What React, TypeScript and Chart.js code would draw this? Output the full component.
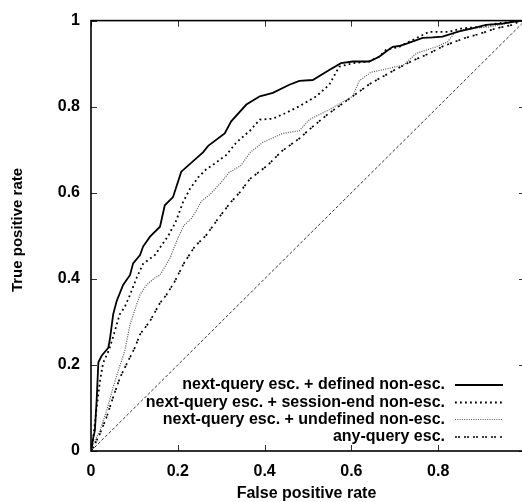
import React, { useEffect, useRef } from "react";
import { Chart, registerables } from "chart.js";

Chart.register(...registerables);

const seriesLabels = [
  "next-query esc. + defined non-esc.",
  "next-query esc. + session-end non-esc.",
  "next-query esc. + undefined non-esc.",
  "any-query esc.",
];

const xTicks = [0, 0.2, 0.4, 0.6, 0.8];
const yTicks = [0, 0.2, 0.4, 0.6, 0.8, 1];
const xTitle = "False positive rate";
const yTitle = "True positive rate";

const definedFpr = [0, 0.005, 0.009, 0.013, 0.017, 0.025, 0.04, 0.044, 0.051, 0.059, 0.074, 0.09, 0.097, 0.113, 0.12, 0.136, 0.159, 0.17, 0.189, 0.208, 0.258, 0.27, 0.308, 0.323, 0.358, 0.389, 0.419, 0.457, 0.48, 0.511, 0.549, 0.576, 0.603, 0.641, 0.664, 0.68, 0.695, 0.71, 0.729, 0.764, 0.787, 0.81, 0.848, 0.879, 0.91, 0.948, 0.99];
const definedTpr = [0, 0.03, 0.048, 0.118, 0.206, 0.222, 0.24, 0.263, 0.317, 0.348, 0.386, 0.409, 0.436, 0.455, 0.475, 0.498, 0.521, 0.571, 0.59, 0.649, 0.694, 0.709, 0.738, 0.766, 0.805, 0.824, 0.832, 0.851, 0.86, 0.862, 0.885, 0.901, 0.905, 0.905, 0.916, 0.928, 0.939, 0.941, 0.947, 0.96, 0.961, 0.963, 0.975, 0.982, 0.99, 0.993, 1];

const sessionFpr = [0, 0.005, 0.013, 0.021, 0.028, 0.042, 0.055, 0.066, 0.078, 0.09, 0.105, 0.12, 0.147, 0.178, 0.195, 0.212, 0.228, 0.247, 0.266, 0.281, 0.312, 0.335, 0.366, 0.389, 0.419, 0.45, 0.48, 0.519, 0.549, 0.572, 0.603, 0.641, 0.664, 0.68, 0.71, 0.733, 0.779, 0.825, 0.856, 0.894, 0.933, 0.99];
const sessionTpr = [0, 0.03, 0.1, 0.165, 0.205, 0.236, 0.279, 0.317, 0.335, 0.363, 0.402, 0.435, 0.455, 0.5, 0.532, 0.578, 0.609, 0.636, 0.655, 0.665, 0.688, 0.717, 0.744, 0.77, 0.772, 0.786, 0.801, 0.824, 0.851, 0.893, 0.901, 0.905, 0.916, 0.932, 0.939, 0.951, 0.974, 0.974, 0.982, 0.985, 0.993, 1];

const undefFpr = [0, 0.006, 0.021, 0.036, 0.051, 0.063, 0.078, 0.09, 0.105, 0.113, 0.128, 0.147, 0.159, 0.182, 0.2, 0.214, 0.231, 0.243, 0.254, 0.275, 0.3, 0.318, 0.345, 0.367, 0.396, 0.442, 0.48, 0.503, 0.549, 0.603, 0.618, 0.645, 0.687, 0.72, 0.75, 0.795, 0.822, 0.838, 0.87, 0.917, 0.956, 0.99];
const undefTpr = [0, 0.018, 0.048, 0.094, 0.148, 0.187, 0.233, 0.294, 0.34, 0.363, 0.386, 0.402, 0.409, 0.448, 0.494, 0.524, 0.54, 0.559, 0.58, 0.597, 0.624, 0.647, 0.663, 0.694, 0.717, 0.738, 0.744, 0.77, 0.793, 0.824, 0.86, 0.88, 0.889, 0.897, 0.924, 0.939, 0.951, 0.972, 0.982, 0.985, 0.993, 1];

const anyFpr = [0, 0.006, 0.021, 0.036, 0.051, 0.067, 0.082, 0.101, 0.113, 0.136, 0.159, 0.174, 0.193, 0.214, 0.239, 0.266, 0.293, 0.322, 0.343, 0.366, 0.406, 0.44, 0.48, 0.503, 0.545, 0.611, 0.641, 0.69, 0.737, 0.78, 0.81, 0.86, 0.898, 0.933, 0.971, 0.99];
const anyTpr = [0, 0.01, 0.041, 0.079, 0.125, 0.171, 0.202, 0.24, 0.271, 0.302, 0.344, 0.363, 0.394, 0.436, 0.475, 0.502, 0.54, 0.578, 0.601, 0.632, 0.663, 0.697, 0.726, 0.747, 0.782, 0.83, 0.852, 0.88, 0.905, 0.924, 0.94, 0.959, 0.97, 0.982, 0.99, 1];

const diagX = [0, 1];
const diagY = [0, 1];

const seriesX = [definedFpr, sessionFpr, undefFpr, anyFpr];
const seriesY = [definedTpr, sessionTpr, undefTpr, anyTpr];

const lineStyles = [
  { color: "#000000", width: 1.8, dash: [] as number[] },
  { color: "#000000", width: 1.8, dash: [1.8, 3.2] },
  { color: "#555555", width: 1.2, dash: [1, 1.3] },
  { color: "#000000", width: 1.7, dash: [2, 1, 2, 4] },
];

const FAMILY = "'Liberation Sans', Arial, sans-serif";

const zip = (xs: number[], ys: number[]) => xs.map((x, i) => ({ x, y: ys[i] }));

const framePlugin = {
  id: "gnuFrame",
  afterDraw(chart: any) {
    const { ctx, chartArea: a, scales } = chart;
    ctx.save();
    // inward ticks on all four sides
    ctx.strokeStyle = "#333333";
    ctx.lineWidth = 1;
    const tl = 6;
    ctx.beginPath();
    for (const v of xTicks) {
      const px = Math.round(scales.x.getPixelForValue(v)) + 0.5;
      ctx.moveTo(px, a.bottom);
      ctx.lineTo(px, a.bottom - tl);
      ctx.moveTo(px, a.top);
      ctx.lineTo(px, a.top + tl);
    }
    for (const v of yTicks) {
      const py = Math.round(scales.y.getPixelForValue(v)) + 0.5;
      ctx.moveTo(a.left, py);
      ctx.lineTo(a.left + tl, py);
      ctx.moveTo(a.right, py);
      ctx.lineTo(a.right - tl, py);
    }
    ctx.stroke();
    // frame
    ctx.strokeStyle = "#000000";
    ctx.lineWidth = 1.6;
    ctx.setLineDash([]);
    ctx.strokeRect(a.left, a.top, a.right - a.left, a.bottom - a.top);

    // axis titles
    ctx.fillStyle = "#000000";
    ctx.font = `bold 16px ${FAMILY}`;
    ctx.textAlign = "center";
    ctx.textBaseline = "middle";
    ctx.fillText(xTitle, (91 + 522) / 2, 494);
    ctx.save();
    ctx.font = `bold 15px ${FAMILY}`;
    ctx.translate(18, 230);
    ctx.rotate(-Math.PI / 2);
    ctx.fillText(yTitle, 0, 0);
    ctx.restore();

    // legend (gnuplot style: right-aligned text, sample on the right)
    const textRight = 445;
    const sx0 = 455;
    const sx1 = 503;
    const rowY = [385, 402.5, 419.5, 437];
    seriesLabels.forEach((label, i) => {
      const y = rowY[i];
      ctx.fillStyle = "#000000";
      ctx.font = `bold 16px ${FAMILY}`;
      ctx.textAlign = "right";
      ctx.textBaseline = "middle";
      ctx.fillText(label, textRight, y);
      const st = lineStyles[i];
      ctx.strokeStyle = st.color;
      ctx.lineWidth = st.width;
      ctx.setLineDash(st.dash);
      ctx.beginPath();
      ctx.moveTo(sx0, y);
      ctx.lineTo(sx1, y);
      ctx.stroke();
    });
    ctx.restore();
  },
};

export default function App() {
  const ref = useRef<HTMLCanvasElement | null>(null);
  useEffect(() => {
    if (!ref.current) return;
    const datasets: any[] = seriesLabels.map((label, i) => ({
      label,
      data: zip(seriesX[i], seriesY[i]),
      showLine: true,
      borderColor: lineStyles[i].color,
      borderWidth: lineStyles[i].width,
      borderDash: lineStyles[i].dash,
      pointRadius: 0,
      tension: 0,
      fill: false,
    }));
    datasets.push({
      label: "random",
      data: zip(diagX, diagY),
      showLine: true,
      borderColor: "#333333",
      borderWidth: 1,
      borderDash: [3, 2],
      pointRadius: 0,
      fill: false,
    });
    const chart = new Chart(ref.current, {
      type: "scatter",
      data: { datasets },
      plugins: [framePlugin],
      options: {
        animation: false,
        responsive: false,
        events: [],
        layout: { padding: { top: 17, right: 0, left: 0, bottom: 0 } },
        plugins: { legend: { display: false }, tooltip: { enabled: false } },
        scales: {
          x: {
            type: "linear",
            min: 0,
            max: 1,
            afterBuildTicks: (s: any) => {
              s.ticks = xTicks.map((v) => ({ value: v }));
            },
            afterFit: (s: any) => {
              s.height = 51;
            },
            grid: { display: false, drawTicks: false },
            border: { display: false },
            ticks: {
              padding: 11,
              color: "#000",
              font: { family: FAMILY, size: 16, weight: "bold" },
              maxRotation: 0,
              callback: (v: any) => String(v),
            },
          },
          y: {
            type: "linear",
            min: 0,
            max: 1,
            afterBuildTicks: (s: any) => {
              s.ticks = yTicks.map((v) => ({ value: v }));
            },
            afterFit: (s: any) => {
              s.width = 91;
            },
            grid: { display: false, drawTicks: false },
            border: { display: false },
            ticks: {
              padding: 11,
              color: "#000",
              font: { family: FAMILY, size: 16, weight: "bold" },
              callback: (v: any) => String(v),
            },
          },
        },
      },
    });
    return () => chart.destroy();
  }, []);
  return (
    <div style={{ position: "fixed", left: 0, top: 0, width: 522, height: 502, overflow: "hidden", background: "#fff" }}>
      <canvas ref={ref} width={525} height={502} style={{ display: "block" }} />
    </div>
  );
}
